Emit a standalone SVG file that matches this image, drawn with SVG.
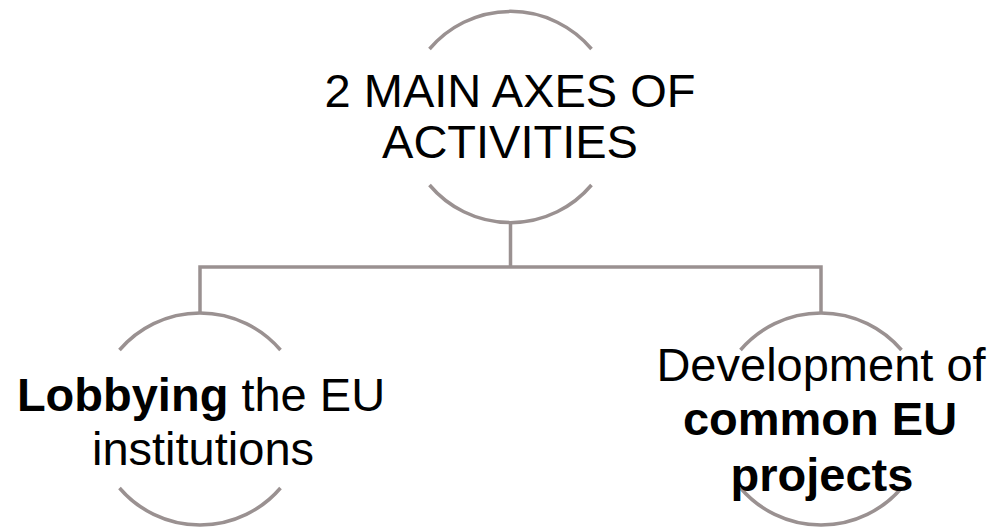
<svg xmlns="http://www.w3.org/2000/svg" width="995" height="528" viewBox="0 0 995 528">
  <style>
    .arc { fill: none; stroke: #9a9191; stroke-width: 3.5; }
    .conn { fill: none; stroke: #9a9191; stroke-width: 3.5; stroke-linejoin: miter; }
    .t { font-family: "Liberation Sans", Arial, sans-serif; font-size: 47px; fill: #000; text-anchor: middle; }
    .b { font-weight: bold; }
  </style>
  <rect width="995" height="528" fill="#ffffff"/>
  <g id="connectors">
    <path class="conn" d="M200,313 V267 H821 V313 M510.5,267 V223"/>
  </g>
  <g id="node-root">
    <path class="arc" d="M429.5,49 A106,106 0 0 1 591.5,49"/>
    <path class="arc" d="M429.5,185 A106,106 0 0 0 591.5,185"/>
    <text class="t" x="510" y="107">2 MAIN AXES OF</text>
    <text class="t" x="510" y="158">ACTIVITIES</text>
  </g>
  <g id="node-lobbying">
    <path class="arc" d="M119.5,350 A106,106 0 0 1 280.5,350"/>
    <path class="arc" d="M119.5,488 A106,106 0 0 0 280.5,488"/>
    <text class="t" x="201" y="411"><tspan class="b">Lobbying</tspan> the EU</text>
    <text class="t" x="203" y="465">institutions</text>
  </g>
  <g id="node-projects">
    <path class="arc" d="M740.5,350 A106,106 0 0 1 901.5,350"/>
    <path class="arc" d="M740.5,488 A106,106 0 0 0 901.5,488"/>
    <text class="t" x="821" y="381">Development of</text>
    <text class="t b" x="820" y="435">common EU</text>
    <text class="t b" x="822" y="491">projects</text>
  </g>
</svg>
